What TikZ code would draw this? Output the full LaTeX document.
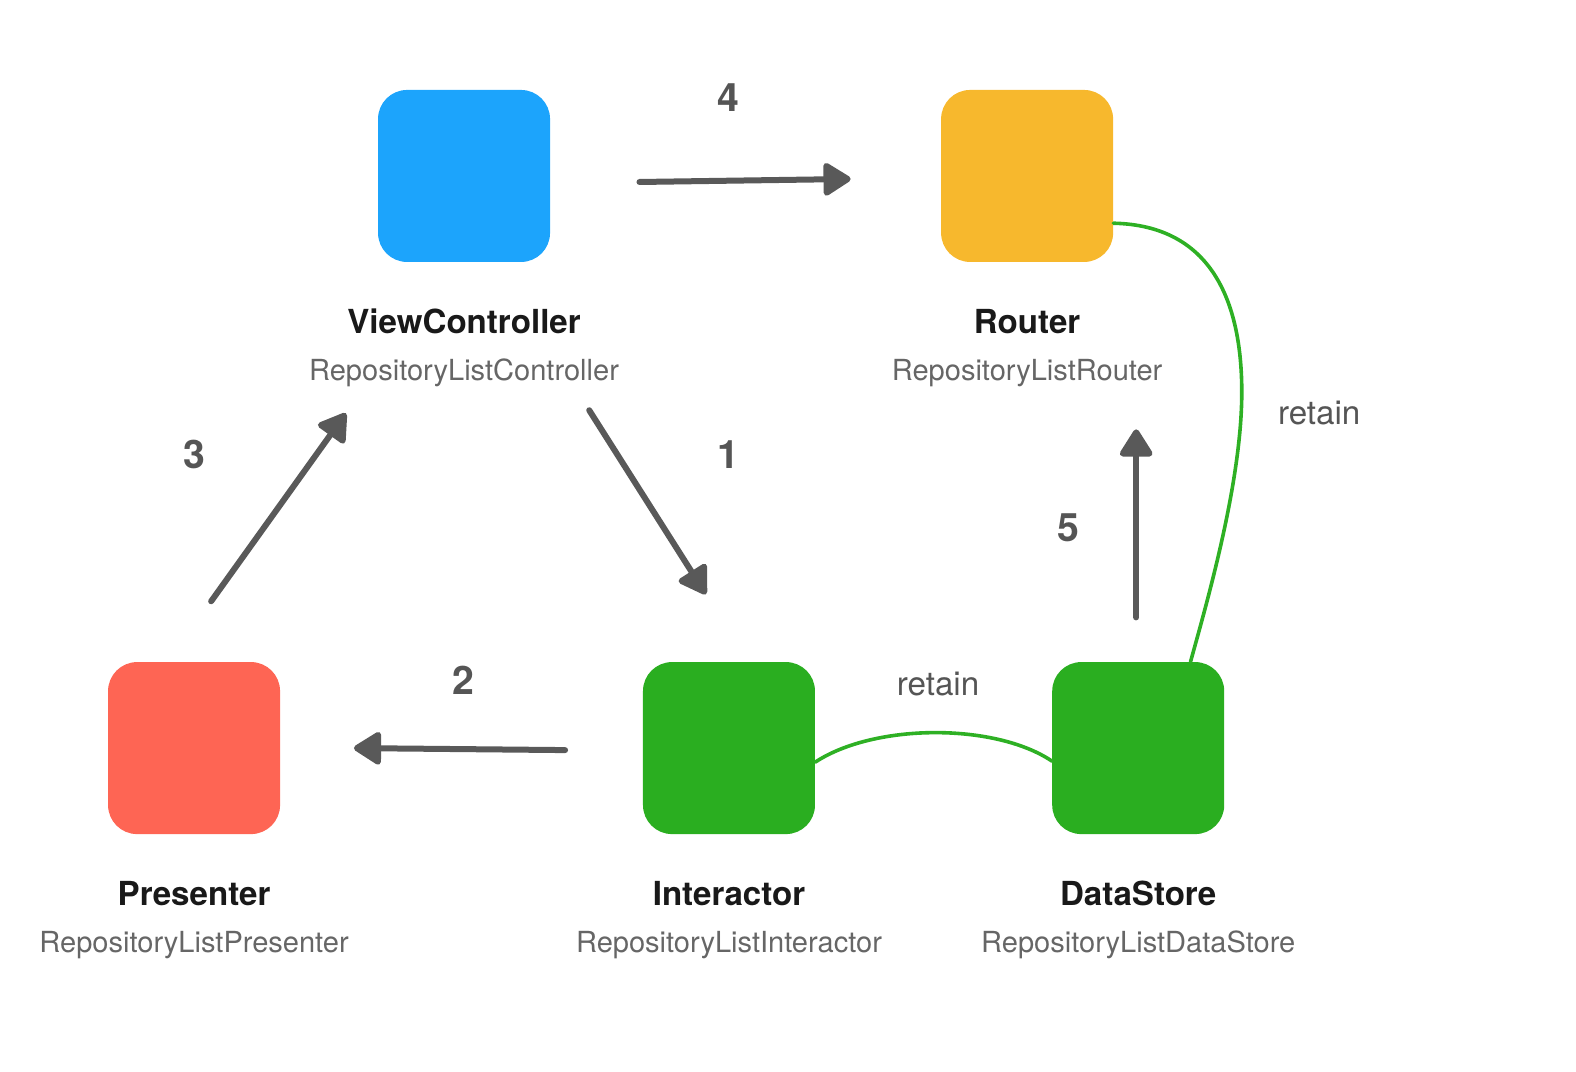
\documentclass[tikz,border=0pt]{standalone}
\usepackage{fontspec}
\setmainfont{TeX Gyre Heros}
\usetikzlibrary{arrows.meta,calc}
\definecolor{cblue}{HTML}{1CA4FC}
\definecolor{corange}{HTML}{F7B82D}
\definecolor{cred}{HTML}{FE6554}
\definecolor{cgreen}{HTML}{2AAE20}
\definecolor{cline}{HTML}{2EB024}
\definecolor{carrow}{HTML}{595959}
\definecolor{csub}{HTML}{666666}
\definecolor{cnum}{HTML}{555555}
\tikzset{
  box/.style={rectangle, rounded corners=29bp, minimum width=172bp, minimum height=172bp, inner sep=0pt, draw=none},
  title/.style={anchor=base, inner sep=0pt, text=black!90, font=\fontsize{33.1bp}{36bp}\selectfont\bfseries},
  sub/.style={anchor=base, inner sep=0pt, text=csub, font=\fontsize{29.05bp}{32bp}\selectfont},
  num/.style={anchor=base, inner sep=0pt, text=cnum, font=\fontsize{39.2bp}{42bp}\selectfont\bfseries},
  rlabel/.style={anchor=base, inner sep=0pt, text=cnum, font=\fontsize{33.2bp}{36bp}\selectfont},
  flow/.style={draw=carrow, line width=6bp, line cap=round, -{Triangle[length=30bp,width=36bp,round]}},
  retainline/.style={draw=cline, line width=3.6bp, line cap=round}
}
\begin{document}
\begin{tikzpicture}[x=1.0055bp,y=-1.0055bp]
\useasboundingbox (0,0) rectangle (1567.4,1066.1);
% boxes
\node[box, fill=cblue]   (vc)  at (461.5,175) {};
\node[box, fill=corange] (rt)  at (1021.5,175) {};
\node[box, fill=cred]    (pr)  at (193,744) {};
\node[box, fill=cgreen]  (it)  at (725,744) {};
\node[box, fill=cgreen]  (ds)  at (1132,744) {};
% labels
\node[title] (vct) at (461.5,332) {ViewController};
\node[sub]   (vcs) at (461.5,378) {RepositoryListController};
\node[title] (rtt) at (1021.5,332) {Router};
\node[sub]   (rts) at (1021.5,378) {RepositoryListRouter};
\node[title] (prt) at (193,901) {Presenter};
\node[sub]   (prs) at (193,947) {RepositoryListPresenter};
\node[title] (itt) at (725,901) {Interactor};
\node[sub]   (its) at (725,947) {RepositoryListInteractor};
\node[title] (dst) at (1132,901) {DataStore};
\node[sub]   (dss) at (1132,947) {RepositoryListDataStore};
% numbers
\node[num] (n4) at (724,111) {4};
\node[num] (n1) at (724,466) {1};
\node[num] (n3) at (193,466) {3};
\node[num] (n2) at (461,691) {2};
\node[num] (n5) at (1063,539) {5};
\node[rlabel] (r1) at (1312,422) {retain};
\node[rlabel] (r2) at (933,692) {retain};
% arrow end points
\coordinate (a4s) at (636,181);
\coordinate (a4e) at (846,178);
\coordinate (a1s) at (586,408);
\coordinate (a1e) at (702,591);
\coordinate (a2s) at (562,746);
\coordinate (a2e) at (352,744);
\coordinate (a3s) at (210,598);
\coordinate (a3e) at (344,411);
\coordinate (a5s) at (1130,614);
\coordinate (a5e) at (1130,427);
\draw[flow] (a4s) -- (a4e);
\draw[flow] (a1s) -- (a1e);
\draw[flow] (a2s) -- (a2e);
\draw[flow] (a3s) -- (a3e);
\draw[flow] (a5s) -- (a5e);
% retain curves
\draw[retainline] ($(rt.east)+(0,47)$) .. controls (1205,224) and (1235,300) .. (1235,390)
  .. controls (1235,480) and (1200,600) .. ($(ds.north)+(52,0)$);
\draw[retainline] ($(it.east)+(0,14)$) .. controls (870,719) and (990,719) .. ($(ds.west)+(0,13)$);
\end{tikzpicture}
\end{document}
